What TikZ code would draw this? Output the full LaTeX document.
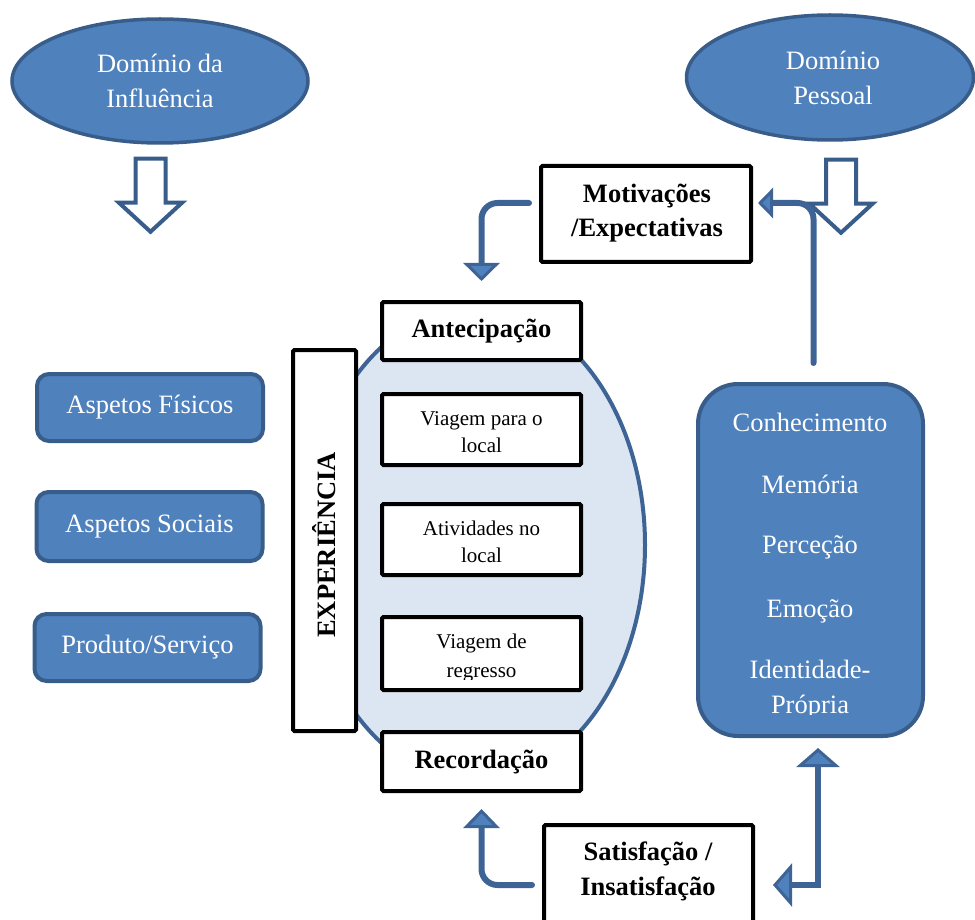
\documentclass[tikz,border=0pt]{standalone}
\usepackage{fontspec}
\setmainfont{Liberation Serif}
\usetikzlibrary{shapes.geometric, arrows.meta, calc}

\definecolor{blueFill}{HTML}{4F81BD}
\definecolor{blueEdge}{HTML}{385D8A}
\definecolor{paleFill}{HTML}{DCE6F2}
\definecolor{linkBlue}{HTML}{3E6496}

\tikzset{
  txtbig/.style={font=\fontsize{26.5}{34}\selectfont},
  txtbold/.style={font=\fontsize{26.5}{34}\selectfont\bfseries},
  txtsmall/.style={font=\fontsize{21}{27}\selectfont},
  txt/.style={inner sep=0pt, anchor=base},
  wtxt/.style={txt, txtbig, text=white},
  domainshape/.style={ellipse, draw=blueEdge, fill=blueFill, line width=3.5pt, inner sep=0pt},
  aspect/.style={rectangle, rounded corners=12pt, draw=blueEdge, fill=blueFill,
    line width=4pt, text=white, txtbig, minimum width=226pt, minimum height=67pt, inner sep=0pt},
  stage/.style={rectangle, draw=black, fill=white, line width=4pt, rounded corners=1.5pt,
    inner sep=0pt, minimum width=199pt},
  conn/.style={draw=linkBlue, line width=6pt, line cap=round},
  hollow/.style={draw=blueEdge, fill=white, line width=4pt, line join=miter},
  hollowdown/.pic={\draw[hollow] (-15,0) -- (15,0) -- (15,44) -- (31.5,44) -- (0,73)
    -- (-31.5,44) -- (-15,44) -- cycle;},
}

\begin{document}
\begin{tikzpicture}[x=1pt, y=-1pt]
\useasboundingbox (0,0) rectangle (975,920);

% --- the two domains ---
\node[domainshape, minimum width=296pt, minimum height=124pt] (infl) at (160,81) {};
\node[wtxt] (inflA) at (160,73) {Domínio da};
\node[wtxt] (inflB) at (160,108) {Influência};

\node[domainshape, minimum width=287pt, minimum height=125pt] (pess) at (830,77.5) {};
\node[wtxt] (pessA) at (833,70) {Domínio};
\node[wtxt] (pessB) at (833,105) {Pessoal};

\pic at ($(infl.south)+(-9.5,14)$) {hollowdown};
\pic at ($(pess.south)+(11,18)$) {hollowdown};

% --- influence factors ---
\node[aspect] (fis) at (150,407.5) {Aspetos Físicos};
\node[aspect, minimum height=69pt] (soc) at (149.5,526.5) {Aspetos Sociais};
\node[aspect] (prod) at (147.5,647.5) {Produto/Serviço};

% --- experience column ---
\node[ellipse, draw=linkBlue, fill=paleFill, line width=4pt, inner sep=0pt,
      minimum width=340pt, minimum height=474pt] (arco) at (475,545) {};

\node[stage, minimum width=63pt, minimum height=381pt] (exper) at (324.5,540.5) {};
\node[txtbold, inner sep=0pt, rotate=90] (experT) at (324,545) {EXPERIÊNCIA};

\node[stage, minimum height=58pt, txtbold] (antec) at (481.5,331) {Antecipação};

\node[stage, minimum height=71pt] (viag1) at (481.5,429.5) {};
\node[txt, txtsmall] (viag1A) at (481.5,425) {Viagem para o};
\node[txt, txtsmall] (viag1B) at (481.5,452) {local};

\node[stage, minimum height=71pt] (ativ) at (481.5,539.5) {};
\node[txt, txtsmall] (ativA) at (481.5,535) {Atividades no};
\node[txt, txtsmall] (ativB) at (481.5,562) {local};

\node[stage, minimum height=73pt] (viag2) at (481.5,653.5) {};
\begin{scope}
  \clip (380,600) rectangle (583,679);
  \node[txt, txtsmall] (viag2A) at (481.5,648) {Viagem de};
  \node[txt, txtsmall] (viag2B) at (481.5,677) {regresso};
\end{scope}

\node[stage, minimum height=59pt, txtbold] (recor) at (481.5,761.5) {Recordação};

% --- motivations and satisfaction ---
\node[stage, minimum width=210pt, minimum height=96pt] (motiv) at (646,214) {};
\node[txt, txtbold] (motivA) at (647,203) {Motivações};
\node[txt, txtbold] (motivB) at (647,237) {/Expectativas};

\node[stage, minimum width=209pt, minimum height=108pt] (satis) at (648.5,879) {};
\node[txt, txtbold] (satisA) at (648,860) {Satisfação /};
\node[txt, txtbold] (satisB) at (648,895) {Insatisfação};

% --- personal factors ---
\node[rectangle, rounded corners=40pt, draw=blueEdge, fill=blueFill, line width=4pt,
      minimum width=225pt, minimum height=352pt, inner sep=0pt] (pbox) at (810.5,560) {};
\begin{scope}
  \clip (696,382) rectangle (925,714);
  \node[wtxt] (p1) at (810,431) {Conhecimento};
  \node[wtxt] (p2) at (810,493) {Memória};
  \node[wtxt] (p3) at (810,553) {Perceção};
  \node[wtxt] (p4) at (810,617) {Emoção};
  \node[wtxt] (p5) at (810,678) {Identidade-};
  \node[wtxt] (p6) at (810,713) {Própria};
\end{scope}

% --- connectors ---
\draw[conn, rounded corners=16pt,
      -{Triangle[width=36pt,length=18pt,line width=3pt,fill=blueFill]}]
  ($(motiv.west)+(-10,-11)$) -| ($(antec.north)+(0,-19)$);

\draw[conn, rounded corners=16pt,
      -{Triangle[width=30pt,length=15pt,line width=3pt,fill=blueFill]}]
  ($(pbox.north)+(3,-19)$) |- ($(motiv.east)+(5,-11)$);

\draw[conn, rounded corners=16pt,
      -{Triangle[width=36pt,length=19pt,line width=3pt,fill=blueFill]}]
  ($(satis.west)+(-10,6)$) -| ($(recor.south)+(0,16)$);

\draw[conn, line cap=butt,
      {Triangle[width=43pt,length=19pt,line width=3pt,fill=blueFill]}-{Triangle[width=43pt,length=19pt,line width=3pt,fill=blueFill]}]
  ($(pbox.south)+(7.5,10)$) |- ($(satis.east)+(18,6)$);
\end{tikzpicture}
\end{document}
